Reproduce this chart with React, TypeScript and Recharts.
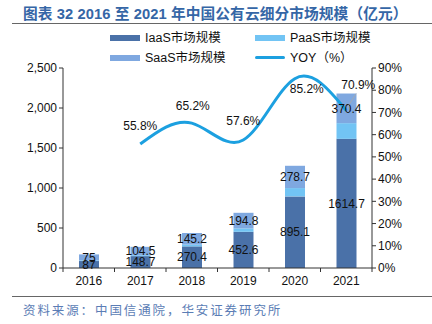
import { Bar, ComposedChart, LabelList, Line, XAxis, YAxis } from 'recharts'

const years = ['2016', '2017', '2018', '2019', '2020', '2021']
const iaas = [87, 148.7, 270.4, 452.6, 895.1, 1614.7]
const paas = [8, 11.5, 21.8, 42.6, 103.9, 196]
const saas = [75, 104.5, 145.2, 194.8, 278.7, 370.4]
const yoy = [null, 55.8, 65.2, 57.6, 85.2, 70.9]
const leftTicks = [0, 500, 1000, 1500, 2000, 2500]
const rightTicks = [0, 10, 20, 30, 40, 50, 60, 70, 80, 90]

const data = years.map((y, i) => ({ year: y, iaas: iaas[i], paas: paas[i], saas: saas[i], yoy: yoy[i] }))

const C_IAAS = '#4A71A8'
const C_PAAS = '#72C4F4'
const C_SAAS = '#7FA8E0'
const C_YOY = '#1CA0E0'
const FONT = 'Arial, "Liberation Sans", "Noto Sans CJK SC", sans-serif'

const PLOT_W = 309
const BAND = PLOT_W / years.length

// label offsets for the YOY line (dx, dy from the point)
const yoyOffsets: Record<number, [number, number]> = {
  1: [0, -18],
  2: [1, -17],
  3: [0, -19],
  4: [12, 10],
  5: [12, -25],
}

function YoyLabel(props: any) {
  const { x, y, value, index } = props
  if (value == null) return null
  const [dx, dy] = yoyOffsets[index] || [0, -16]
  return (
    <g>
      {index === 5 && <line x1={x + 1} y1={y - 3} x2={x + 10} y2={y - 17} stroke="#aaa" strokeWidth={0.8} />}
      <text x={x + dx} y={y + dy} textAnchor="middle" dominantBaseline="central" fontSize={12} fill="#111" fontFamily={FONT}>
        {value}%
      </text>
    </g>
  )
}

function XTick(props: any) {
  const { x, y, payload, index } = props
  return (
    <g>
      <line x1={x - BAND / 2} y1={y - 8} x2={x - BAND / 2} y2={y - 4} stroke="#333" />
      {index === years.length - 1 && <line x1={x + BAND / 2} y1={y - 8} x2={x + BAND / 2} y2={y - 4} stroke="#333" />}
      <text x={x} y={y + 9} textAnchor="middle" fontSize={12} fill="#111" fontFamily={FONT}>
        {payload.value}
      </text>
    </g>
  )
}

function Swatch({ color, line }: { color: string; line?: boolean }) {
  return (
    <span
      style={{
        display: 'inline-block',
        width: 30,
        height: line ? 3 : 6,
        background: color,
        borderRadius: line ? 2 : 0,
        marginRight: 5,
        verticalAlign: 'middle',
      }}
    />
  )
}

const legendItems = [
  { name: 'IaaS市场规模', color: C_IAAS, left: 110, top: 28 },
  { name: 'PaaS市场规模', color: C_PAAS, left: 255, top: 28 },
  { name: 'SaaS市场规模', color: C_SAAS, left: 110, top: 48 },
  { name: 'YOY（%）', color: C_YOY, left: 255, top: 48, line: true },
]

export default function App() {
  return (
    <div style={{ position: 'fixed', left: 0, top: 0, width: 432, height: 324, background: '#fff', fontFamily: FONT }}>
      <div style={{ position: 'absolute', left: 23, top: 2, fontSize: 14.7, fontWeight: 'bold', color: '#3566A6', whiteSpace: 'nowrap', letterSpacing: 0.1 }}>
        图表 32 2016 至 2021 年中国公有云细分市场规模（亿元）
      </div>
      <div style={{ position: 'absolute', left: 12, right: 0, top: 23, height: 1, background: '#666' }} />
      {legendItems.map(it => (
        <div key={it.name} style={{ position: 'absolute', left: it.left, top: it.top, fontSize: 12.5, color: '#111', whiteSpace: 'nowrap', lineHeight: '18px' }}>
          <Swatch color={it.color} line={it.line} />
          <span style={{ verticalAlign: 'middle' }}>{it.name}</span>
        </div>
      ))}
      <ComposedChart
        width={432}
        height={324}
        data={data}
        margin={{ top: 68, right: 0, bottom: 26, left: 8 }}
        barSize={20}
      >
        <XAxis dataKey="year" height={30} tick={<XTick />} tickLine={false} axisLine={{ stroke: '#333' }} interval={0} />
        <YAxis
          yAxisId="left"
          width={55}
          domain={[0, 2500]}
          ticks={leftTicks}
          tickFormatter={(v: number) => v.toLocaleString('en-US')}
          tick={{ fontSize: 12, fill: '#111', fontFamily: FONT }}
          tickSize={4}
          axisLine={{ stroke: '#333' }}
          tickLine={{ stroke: '#333' }}
        />
        <YAxis
          yAxisId="right"
          orientation="right"
          width={60}
          domain={[0, 90]}
          ticks={rightTicks}
          tickFormatter={(v: number) => `${v}%`}
          tick={{ fontSize: 12, fill: '#111', fontFamily: FONT }}
          tickSize={4}
          axisLine={{ stroke: '#333' }}
          tickLine={{ stroke: '#333' }}
        />
        <Bar yAxisId="left" dataKey="iaas" stackId="a" fill={C_IAAS} isAnimationActive={false}>
          <LabelList dataKey="iaas" position="center" fontSize={12} fill="#111" fontFamily={FONT} />
        </Bar>
        <Bar yAxisId="left" dataKey="paas" stackId="a" fill={C_PAAS} isAnimationActive={false} />
        <Bar yAxisId="left" dataKey="saas" stackId="a" fill={C_SAAS} isAnimationActive={false}>
          <LabelList dataKey="saas" position="center" fontSize={12} fill="#111" fontFamily={FONT} />
        </Bar>
        <Line
          yAxisId="right"
          dataKey="yoy"
          type="natural"
          stroke={C_YOY}
          strokeWidth={3}
          dot={false}
          connectNulls={false}
          isAnimationActive={false}
        >
          <LabelList dataKey="yoy" content={<YoyLabel />} />
        </Line>
      </ComposedChart>
      <div style={{ position: 'absolute', left: 12, right: 0, top: 296, height: 1, background: '#666' }} />
      <div style={{ position: 'absolute', left: 23, top: 300, fontSize: 12.5, color: '#5B7DB5', whiteSpace: 'nowrap', letterSpacing: 1.9 }}>
        资料来源：中国信通院，华安证券研究所
      </div>
    </div>
  )
}
